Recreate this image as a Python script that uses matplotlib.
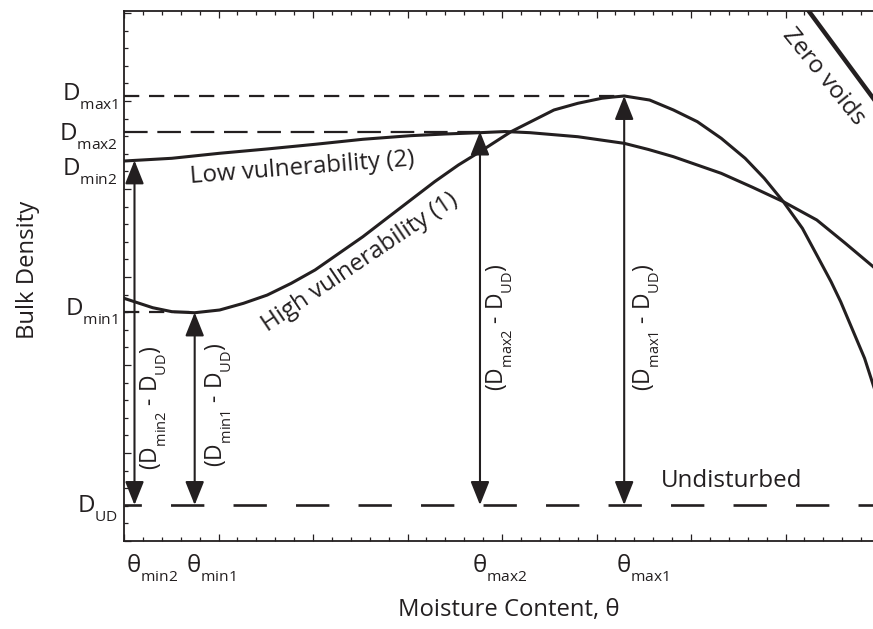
import matplotlib
matplotlib.use('Agg')
import matplotlib.pyplot as plt
import matplotlib._mathtext as mt
from matplotlib.ticker import MultipleLocator

plt.rcParams['font.family'] = ['Open Sans', 'DejaVu Sans']
plt.rcParams['mathtext.fontset'] = 'custom'
plt.rcParams['mathtext.rm'] = 'Open Sans'
plt.rcParams['mathtext.it'] = 'Open Sans:italic'
plt.rcParams['mathtext.bf'] = 'Open Sans:bold'
plt.rcParams['lines.scale_dashes'] = False
# subscripts sit lower and are smaller in the original artwork
mt.FontConstantsBase.sub1 = 0.75
mt.SHRINK_FACTOR = 0.64

ink = '#231f20'

# curves (moisture content, bulk density)
theta_low = [0, 0.506, 1.012, 1.516, 2.022, 2.528, 3.034, 3.397, 3.767, 4.032, 4.296,
             4.803, 5.293, 5.550, 5.814, 6.320, 6.650, 6.977, 7.331, 7.630, 7.928, 7.96]
dens_low = [4.318, 4.349, 4.406, 4.455, 4.508, 4.565, 4.606, 4.625, 4.640, 4.653, 4.640,
            4.594, 4.519, 4.449, 4.367, 4.178, 4.020, 3.856, 3.648, 3.386, 3.117, 3.085]

theta_high = [0, 0.304, 0.506, 0.748, 1.012, 1.264, 1.516, 1.769, 2.022, 2.275, 2.528,
              2.781, 3.034, 3.287, 3.539, 3.767, 4.095, 4.550, 4.803, 5.056, 5.175, 5.293,
              5.562, 5.814, 6.067, 6.320, 6.573, 6.775, 6.977, 7.179, 7.331, 7.482, 7.584,
              7.837, 7.928, 7.96]
dens_high = [2.758, 2.651, 2.606, 2.594, 2.625, 2.701, 2.795, 2.928, 3.080, 3.269, 3.458,
             3.667, 3.875, 4.083, 4.273, 4.424, 4.651, 4.898, 4.974, 5.031, 5.045, 5.057,
             5.011, 4.898, 4.765, 4.576, 4.349, 4.122, 3.856, 3.553, 3.250, 2.947, 2.719,
             2.076, 1.773, 1.67]

theta_zero = [7.22, 7.97]
dens_zero = [6.06, 4.97]

# characteristic values
d_max1, d_max2, d_min2, d_min1, d_ud = 5.057, 4.653, 4.325, 2.597, 0.409
th_min2, th_min1, th_max2, th_max1 = 0.111, 0.748, 3.767, 5.293

fig = plt.figure(figsize=(8.73, 6.29), dpi=100)
ax = fig.add_axes([124/873, 88/629, 752/873, 530.5/629])
ax.set_xlim(0, 752/94.5)
ax.set_ylim(0, 530.5/88)

for s in ['left', 'bottom', 'top']:
    ax.spines[s].set_linewidth(1.3)
    ax.spines[s].set_color(ink)
ax.spines['right'].set_visible(False)

ax.xaxis.set_major_locator(MultipleLocator(1))
ax.xaxis.set_minor_locator(MultipleLocator(0.2))
ax.yaxis.set_major_locator(MultipleLocator(1))
ax.yaxis.set_minor_locator(MultipleLocator(0.2))
ax.tick_params(which='both', direction='in', top=True, right=False,
               labelbottom=False, labelleft=False, color=ink, width=0.9)
ax.tick_params(which='major', length=5)
ax.tick_params(which='minor', length=3)

# reference levels
ax.plot([0, th_max1], [d_max1, d_max1], color=ink, lw=1.6, dashes=(11, 7))
ax.plot([0, th_max2], [d_max2, d_max2], color=ink, lw=1.6, dashes=(17, 7))
ax.plot([0, th_min1], [d_min1, d_min1], color=ink, lw=1.6, dashes=(11, 7))
ax.plot([0, 752/94.5], [d_ud, d_ud], color=ink, lw=1.9, linestyle=(11.5, (24, 21)))

# compaction curves
ax.plot(theta_low, dens_low, color=ink, lw=2.2)
ax.plot(theta_high, dens_high, color=ink, lw=2.2)
ax.plot(theta_zero, dens_zero, color=ink, lw=3.2, clip_on=True)

# arrows
arrow_pts = [(th_min2, d_min2), (th_min1, d_min1), (th_max2, d_max2), (th_max1, d_max1)]
for th, top in arrow_pts:
    ax.annotate('', xy=(th, top), xytext=(th, d_ud),
                arrowprops=dict(arrowstyle='<|-|>,head_length=1.45,head_width=0.58',
                                mutation_scale=10, lw=1.5, color=ink,
                                shrinkA=0, shrinkB=0))

fs = 17.4
# D labels on the left
d_labels = ['D$_{\\mathrm{max1}}$', 'D$_{\\mathrm{max2}}$', 'D$_{\\mathrm{min2}}$',
            'D$_{\\mathrm{min1}}$', 'D$_{\\mathrm{UD}}$']
d_label_y = [5.011, 4.557, 4.159, 2.568, 0.330]
for lab, y in zip(d_labels, d_label_y):
    ax.annotate(lab, xy=(0, y), xycoords=('axes fraction', 'data'),
                xytext=(-4.5, 0), textcoords='offset points',
                ha='right', va='baseline', fontsize=fs, color=ink)

# theta labels below
th_labels = ['θ$_{\\mathrm{min2}}$', 'θ$_{\\mathrm{min1}}$', 'θ$_{\\mathrm{max2}}$', 'θ$_{\\mathrm{max1}}$']
for lab, th in zip(th_labels, [th_min2, th_min1, th_max2, th_max1]):
    ax.annotate(lab, xy=(th, 0), xycoords=('data', 'axes fraction'),
                xytext=(-6, -8), textcoords='offset points',
                ha='left', va='top', fontsize=fs, color=ink)

# difference labels along arrows
diff_labels = ['(D$_{\\mathrm{min2}}$ - D$_{\\mathrm{UD}}$)', '(D$_{\\mathrm{min1}}$ - D$_{\\mathrm{UD}}$)',
               '(D$_{\\mathrm{max2}}$ - D$_{\\mathrm{UD}}$)', '(D$_{\\mathrm{max1}}$ - D$_{\\mathrm{UD}}$)']
diff_pos = [(0.31, 1.511), (1.0, 1.545), (3.979, 2.432), (5.535, 2.432)]
for lab, (x, y) in zip(diff_labels, diff_pos):
    ax.text(x, y, lab, rotation=90, ha='center', va='center', fontsize=16.5, color=ink)

ax.text(1.884, 4.235, 'Low vulnerability (2)', rotation=4.5, ha='center', va='center',
        fontsize=fs, color=ink)
ax.text(2.497, 3.170, 'High vulnerability (1)', rotation=34, ha='center', va='center',
        fontsize=fs, color=ink)
ax.text(7.407, 5.273, 'Zero voids', rotation=-51, ha='center', va='center',
        fontsize=fs, color=ink)
ax.text(6.434, 0.682, 'Undisturbed', ha='center', va='center', fontsize=fs, color=ink)

fig.text(28/873, 1 - 270/629, 'Bulk Density', rotation=90, ha='center', va='center',
         fontsize=17.2, color=ink)
fig.text(509/873, 1 - 610/629, 'Moisture Content, θ', ha='center', va='center',
         fontsize=17.2, color=ink)

fig.savefig('out.png', dpi=100, facecolor='white')
